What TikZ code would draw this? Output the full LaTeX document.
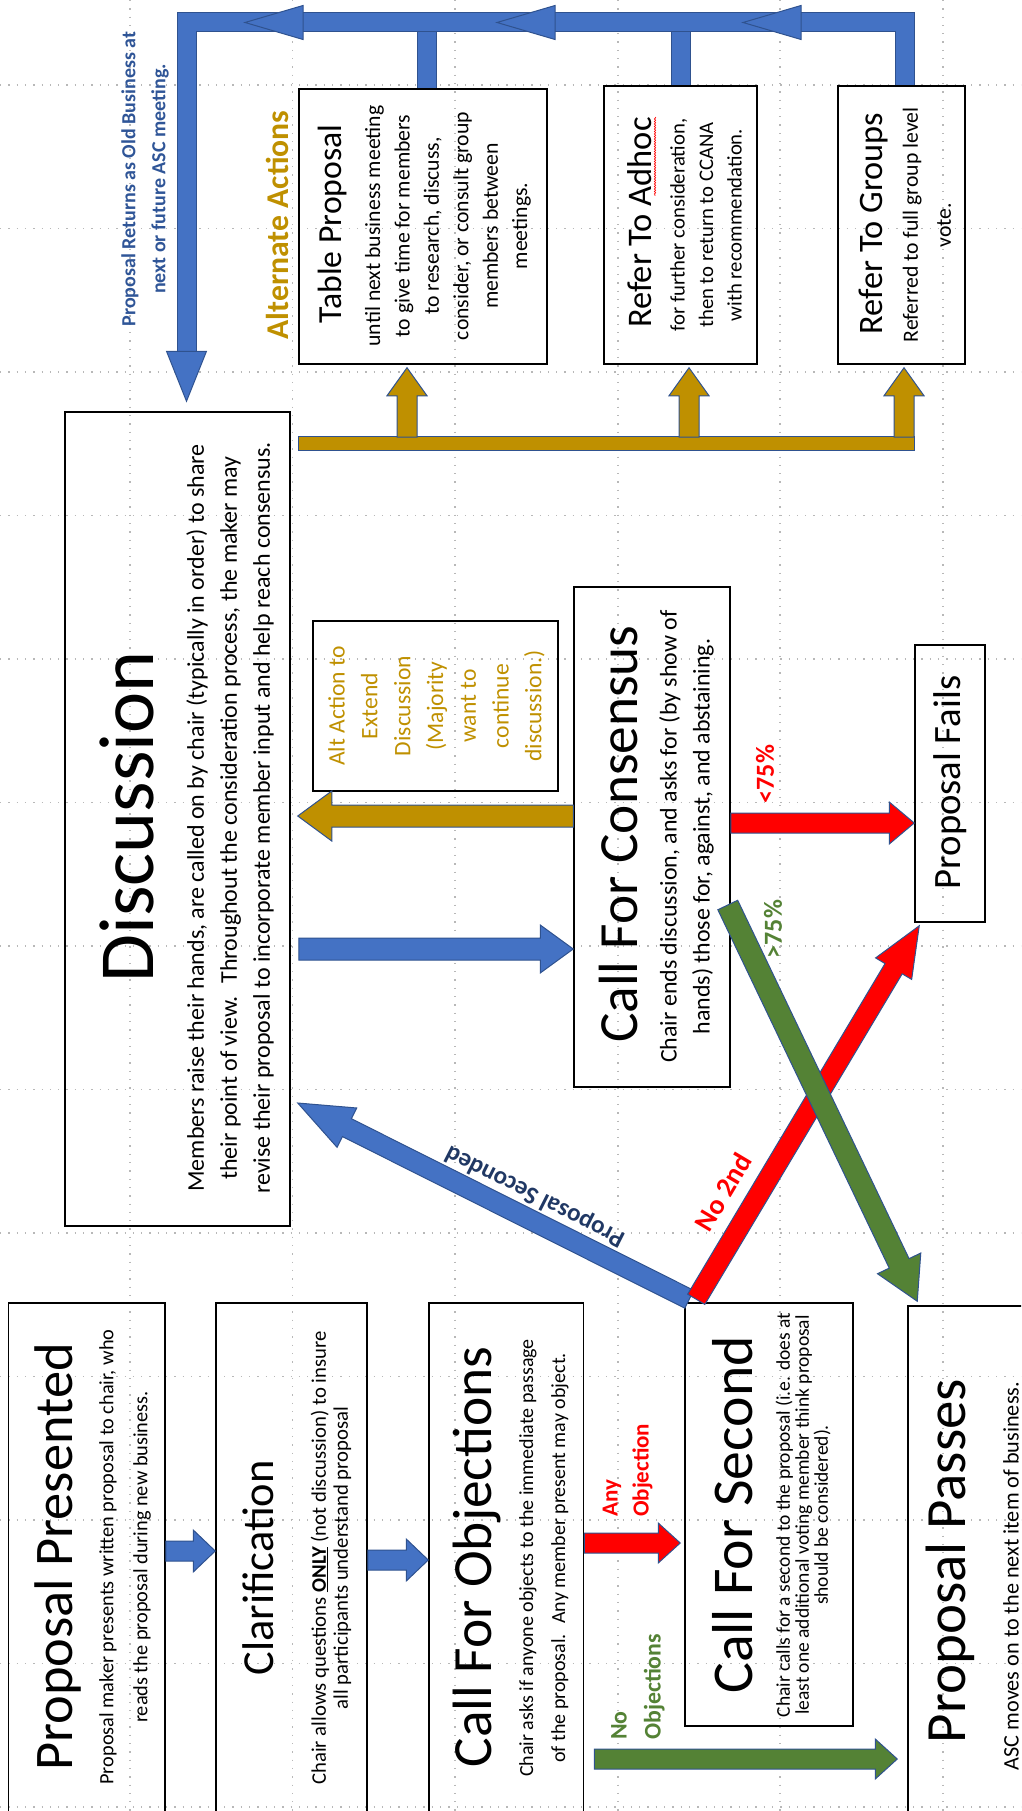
\documentclass[tikz,border=0pt]{standalone}
\usepackage{fontspec}
\setmainfont{Carlito}
\usetikzlibrary{calc,decorations.pathmorphing}
\definecolor{bfill}{HTML}{4472C4}
\definecolor{boutl}{HTML}{2F528F}
\definecolor{rfill}{HTML}{FF0000}
\definecolor{gfill}{HTML}{548235}
\definecolor{ofill}{HTML}{BF9000}
\definecolor{rettext}{HTML}{2F5597}
\definecolor{sectext}{HTML}{203864}
\definecolor{gridc}{HTML}{B8B8B8}
\newcommand\myfs[2]{\fontsize{#1}{#2}\selectfont}
\newcommand\myblk[6]{%
  \coordinate (blkC) at ($(#3)!#6!(#2)$);
  \filldraw[#1] ($(#2)!#4!90:(#3)$) -- ($(blkC)!#4!-90:(#2)$) -- ($(blkC)!#5!-90:(#2)$) -- (#3) -- ($(blkC)!#5!90:(#2)$) -- ($(blkC)!#4!90:(#2)$) -- ($(#2)!#4!-90:(#3)$) -- cycle;}
\begin{document}
\begin{tikzpicture}[x=1pt,y=-1pt,
 box/.style={draw=black,line width=1.5pt,inner sep=0pt},
 vt/.style={rotate=90,align=center,inner sep=0pt},
 gridline/.style={draw=gridc,line width=1.3pt,dash pattern=on 1.3pt off 7pt},
 barr/.style={fill=bfill,draw=boutl,line width=1pt,line join=miter},
 rarr/.style={fill=rfill,draw=boutl,line width=1pt,line join=miter},
 garr/.style={fill=gfill,draw=boutl,line width=1pt,line join=miter},
 oarr/.style={fill=ofill,draw=boutl,line width=1pt,line join=miter},
 bband/.style={draw=boutl,line width=1pt,double=bfill,double distance=18pt,line join=miter}]
\useasboundingbox (0,0) rectangle (1021,1811);
\clip (0,0) rectangle (1021,1811);
% grid
\foreach \gx in {130,292.5,455,618,780,943} \draw[gridline] (\gx,0) -- (\gx,1811);
\foreach \gy in {85,228.5,372,515.5,659,802.5,946,1089.5,1233,1376.5,1520,1663.5,1807} \draw[gridline] (0,\gy) -- (1021,\gy);
% boxes
\node[box,minimum width=156.5pt,minimum height=509pt] (pp) at (86.75,1557.5) {};
\node[box,minimum width=151pt,minimum height=509pt] (clar) at (291.5,1557.5) {};
\node[box,minimum width=154.5pt,minimum height=509pt] (obj) at (506.25,1557.5) {};
\node[box,minimum width=168pt,minimum height=423pt] (cfs) at (769,1514.5) {};
\node[box,minimum width=132pt,minimum height=540pt] (passes) at (974,1576) {};
\node[box,minimum width=225pt,minimum height=814pt] (disc) at (177.5,819) {};
\node[box,minimum width=156pt,minimum height=500pt] (cfc) at (652,837) {};
\node[box,minimum width=245pt,minimum height=170pt] (alt) at (435.5,706) {};
\node[box,minimum width=70pt,minimum height=277pt] (fails) at (950,783.5) {};
\node[box,minimum width=248pt,minimum height=275pt] (table) at (423,226.5) {};
\node[box,minimum width=153pt,minimum height=278pt] (adhoc) at (680.5,225) {};
\node[box,minimum width=127pt,minimum height=278pt] (groups) at (901.5,225) {};
% blue flow arrows
\coordinate (yA) at (0,1551);
\coordinate (a1s) at (pp.east |- yA); \coordinate (a1e) at (clar.west |- yA);
\myblk{barr}{a1s}{a1e}{10pt}{21pt}{22pt}
\coordinate (yB) at (0,1560);
\coordinate (a2s) at (clar.east |- yB); \coordinate (a2e) at (obj.west |- yB);
\myblk{barr}{a2s}{a2e}{10pt}{21pt}{22pt}
\coordinate (yC) at (0,1543);
\coordinate (a3s) at (obj.east |- yC); \coordinate (a3e) at ($(cfs.west |- yC)+(-4,0)$);
\myblk{rarr}{a3s}{a3e}{10pt}{20pt}{22pt}
\coordinate (yD) at (0,1759);
\coordinate (a4s) at ($(obj.east |- yD)+(10,0)$); \coordinate (a4e) at ($(passes.west |- yD)+(-10,0)$);
\myblk{garr}{a4s}{a4e}{10pt}{20pt}{22pt}
\coordinate (yE) at (0,949);
\coordinate (a5s) at ($(disc.east |- yE)+(8,0)$); \coordinate (a5e) at (cfc.west |- yE);
\myblk{barr}{a5s}{a5e}{11pt}{24pt}{33pt}
\coordinate (yF) at (0,816);
\coordinate (a6s) at (cfc.west |- yF); \coordinate (a6e) at ($(disc.east |- yF)+(7,0)$);
\myblk{oarr}{a6s}{a6e}{11pt}{25pt}{34pt}
\coordinate (yG) at (0,823);
\coordinate (a7s) at (cfc.east |- yG); \coordinate (a7e) at (fails.west |- yG);
\myblk{rarr}{a7s}{a7e}{10pt}{21pt}{25pt}
\coordinate (yI) at (0,1103);
\coordinate (a10s) at ($(cfs.north west)+(5,-3)$); \coordinate (a10e) at ($(disc.east |- yI)+(7,0)$);
\myblk{barr}{a10s}{a10e}{10pt}{22pt}{55pt}
\coordinate (a9s) at ($(cfs.north west)+(12,-3)$); \coordinate (a9e) at ($(fails.south west)+(5,3)$);
\myblk{rarr}{a9s}{a9e}{10pt}{21pt}{50pt}
\coordinate (yH) at (0,905);
\coordinate (a8s) at ($(cfc.east |- yH)+(-3,0)$); \coordinate (a8e) at ($(passes.north west)+(10,-4)$);
\myblk{garr}{a8s}{a8e}{11pt}{24pt}{42pt}
% gold bracket to alternate actions
\coordinate (yJ) at (0,443);
\coordinate (gbL) at ($(disc.east |- yJ)+(8,0)$);
\coordinate (gbR) at (914,443);
\filldraw[oarr] ($(gbL)+(0,-7)$) rectangle ($(gbR)+(0,7)$);
\coordinate (u1s) at (407,437); \coordinate (u1e) at ($(table.south -| u1s)+(0,3)$);
\myblk{oarr}{u1s}{u1e}{10pt}{20pt}{28pt}
\coordinate (u2s) at (689,437); \coordinate (u2e) at ($(adhoc.south -| u2s)+(0,3)$);
\myblk{oarr}{u2s}{u2e}{10pt}{20pt}{28pt}
\coordinate (u3s) at (904,437); \coordinate (u3e) at ($(groups.south -| u3s)+(0,3)$);
\myblk{oarr}{u3s}{u3e}{10pt}{20pt}{28pt}
% blue return trunk
\coordinate (tGs) at ($(groups.north)+(3.5,0)$);
\coordinate (tTop) at (186.5,22.5);
\coordinate (tDown) at (186.5,353);
\draw[bband] (adhoc.north) -- (adhoc.north |- tTop);
\draw[bband] ($(table.north)+(4,0)$) -- ($(table.north |- tTop)+(4,0)$);
\draw[bband] (tGs) |- (tTop) -- (tDown);
\filldraw[barr] (245,22.5) -- ++(58,-17) -- ++(0,34) -- cycle;
\filldraw[barr] (497,22.5) -- ++(58,-17) -- ++(0,34) -- cycle;
\filldraw[barr] (743,22.5) -- ++(58,-17) -- ++(0,34) -- cycle;
\coordinate (tTip) at ($(disc.north -| tTop)+(0,-10)$);
\filldraw[barr] (tTip) -- ++(-20,-50) -- ++(40,0) -- cycle;
% texts
\node[vt,font=\myfs{54.4}{60}] (ppT) at (57.5,1557) {Proposal Presented};
\node[vt,font=\myfs{20.3}{34}] (ppB) at (125,1557) {Proposal maker presents written proposal to chair, who\\reads the proposal during new business.};
\node[vt,font=\myfs{44.4}{50}] (clarT) at (258,1568) {Clarification};
\node[vt,font=\myfs{20.7}{22}] (clarB) at (331,1558) {Chair allows questions \underline{\textbf{ONLY}} (not discussion) to insure\\all participants understand proposal};
\node[vt,font=\myfs{55.4}{60}] (objT) at (477,1557) {Call For Objections};
\node[vt,font=\myfs{20}{32}] (objB) at (544,1558) {Chair asks if anyone objects to the immediate passage\\of the proposal.~ Any member present may object.};
\node[vt,font=\myfs{57.7}{62}] (cfsT) at (733,1515) {Call For Second};
\node[vt,font=\myfs{19.5}{19}] (cfsB) at (803,1515) {Chair calls for a second to the proposal (i.e. does at\\least one additional voting member think proposal\\should be considered).};
\node[vt,font=\myfs{56.9}{62}] (passT) at (950,1561) {Proposal Passes};
\node[vt,font=\myfs{22.2}{26}] (passB) at (1011,1576) {ASC moves on to the next item of business.};
\node[vt,font=\myfs{78}{84}] (discT) at (126.5,817) {Discussion};
\node[vt,font=\myfs{24}{33}] (discB) at (230,818) {Members raise their hands, are called on by chair (typically in order) to share\\their point of view.~ Throughout the consideration process, the maker may\\revise their proposal to incorporate member input and help reach consensus.};
\node[vt,font=\myfs{55.3}{60}] (cfcT) at (618.5,834) {Call For Consensus};
\node[vt,font=\myfs{23.9}{33}] (cfcB) at (686.5,836.5) {Chair ends discussion, and asks for (by show of\\hands) those for, against, and abstaining.};
\node[vt,font=\myfs{38.7}{44}] (failsT) at (950,782.5) {Proposal Fails};
\node[vt,font=\myfs{23.6}{32.8},text=ofill] (altB) at (436.5,706) {Alt Action to\\Extend\\Discussion\\(Majority\\want to\\continue\\discussion.)};
\node[vt,font=\myfs{33.7}{38}] (tableT) at (333,224) {Table Proposal};
\node[vt,font=\myfs{21.7}{29.4}] (tableB) at (448,226) {until next business meeting\\to give time for members\\to research, discuss,\\consider, or consult group\\members between\\meetings.};
\node[vt,font=\myfs{34.5}{38}] (adhocT) at (640,222.5) {Refer To Adhoc};
\draw[rfill,line width=0.6pt,decorate,decoration={snake,amplitude=0.7pt,segment length=2.5pt}] (655,117) -- (655,196);
\node[vt,font=\myfs{20.7}{28.5}] (adhocB) at (706,225) {for further consideration,\\then to return to CCANA\\with recommendation.};
\node[vt,font=\myfs{34.3}{38}] (groupsT) at (873,223.5) {Refer To Groups};
\node[vt,font=\myfs{21.7}{33}] (groupsB) at (927,225) {Referred to full group level\\vote.};
% labels
\node[vt,font=\bfseries\myfs{20}{30},text=rettext] (retL) at (145,179) {Proposal Returns as Old Business at\\next or future ASC meeting.};
\node[vt,font=\bfseries\myfs{31.7}{36},text=ofill] (altL) at (277,225) {Alternate Actions};
\node[rotate=90,align=left,anchor=west,inner sep=0pt,font=\bfseries\myfs{23}{31},text=rfill] (anyL) at (627.5,1517) {Any\\Objection};
\node[rotate=90,align=left,anchor=west,inner sep=0pt,font=\bfseries\myfs{23.8}{34},text=gfill] (noObjL) at (638,1740) {No\\Objections};
\node[vt,font=\bfseries\myfs{26}{30},text=rfill] (ltL) at (765,774) {<75\%};
\node[vt,font=\bfseries\myfs{26}{30},text=gfill] (gtL) at (773,929) {>75\%};
\node[rotate=59.3,inner sep=0pt,font=\bfseries\myfs{28}{32},text=rfill] (no2L) at (723,1192) {No 2nd};
\node[rotate=153.1,inner sep=0pt,font=\bfseries\myfs{25}{30},text=sectext] (secL) at (535,1196) {Proposal Seconded};
\end{tikzpicture}
\end{document}
